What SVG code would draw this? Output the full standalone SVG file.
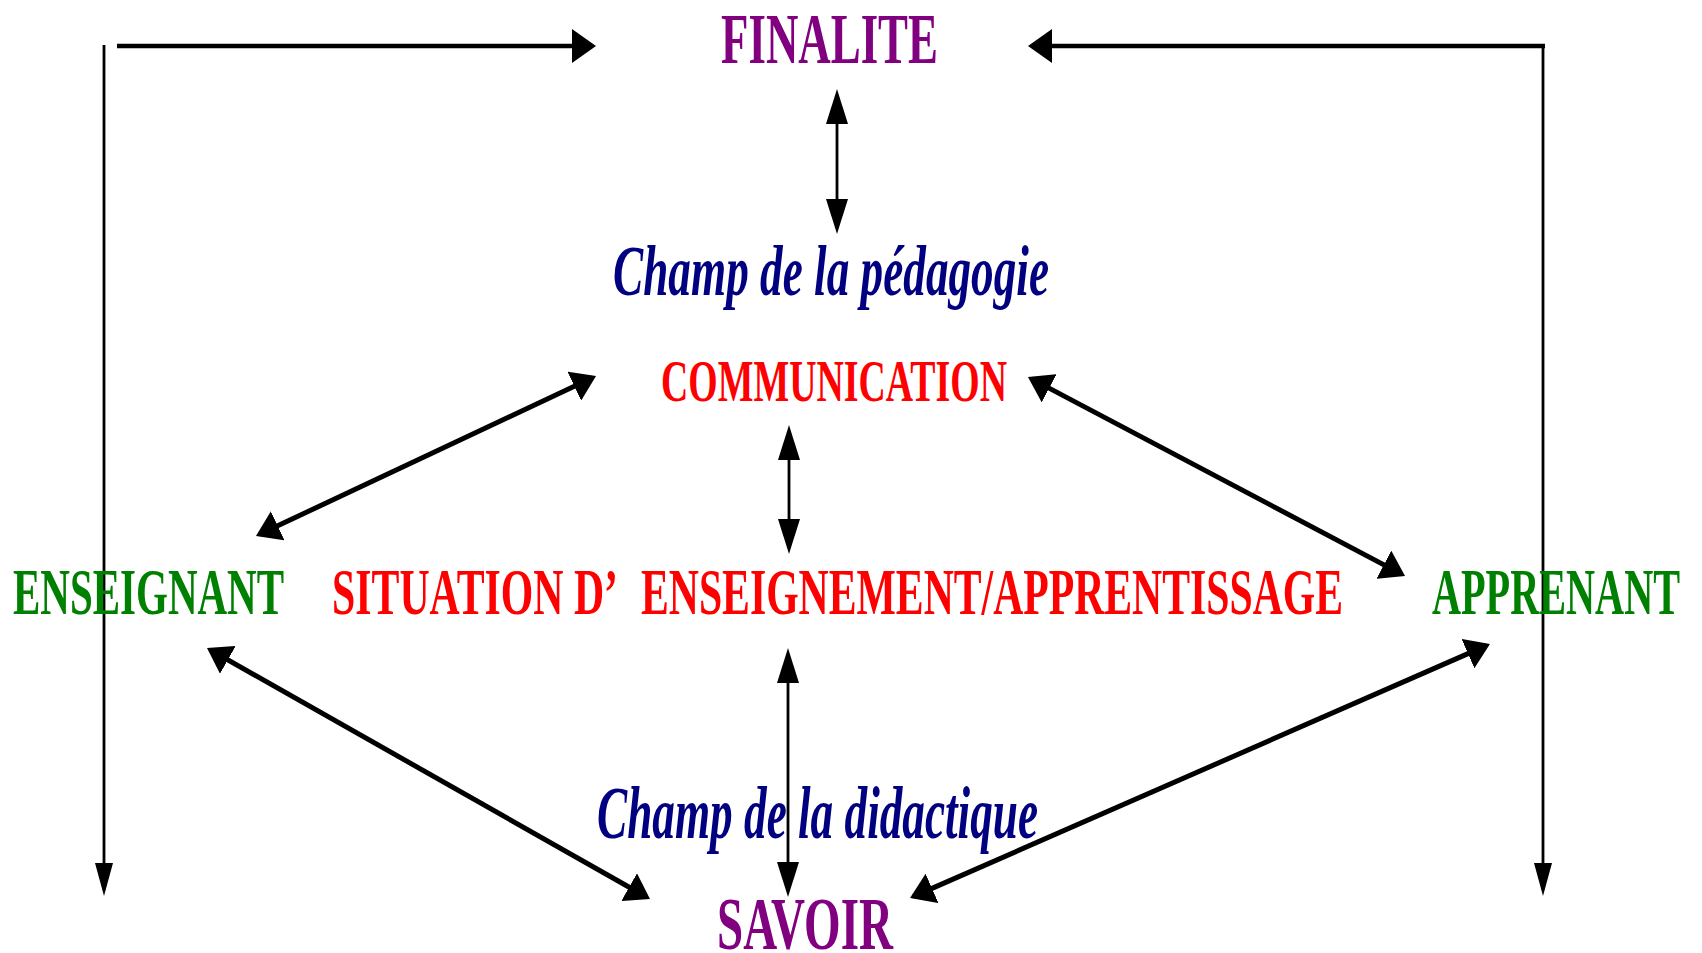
<svg xmlns="http://www.w3.org/2000/svg" width="1702" height="953" viewBox="0 0 1702 953">
<style>
.bg{fill:#ffffff}
.t{font-family:"Liberation Serif","Times New Roman",serif;font-weight:bold}
.it{font-style:italic}
.purple{fill:#800080}
.navy{fill:#000080}
.red{fill:#ff0000}
.green{fill:#008000}
.thick{stroke:#000;stroke-width:5;fill:none}
.hz{stroke:#000;stroke-width:4.5;fill:none}
.thin{stroke:#000;stroke-width:2.8;fill:none}
</style>
<defs>
<marker id="mh" markerUnits="userSpaceOnUse" markerWidth="24" markerHeight="34" refX="20" refY="17" orient="auto-start-reverse"><path d="M0,0 L24,17 L0,34 z" fill="#000"/></marker>
<marker id="md" markerUnits="userSpaceOnUse" markerWidth="24" markerHeight="32" refX="20" refY="16" orient="auto-start-reverse"><path d="M0,0 L24,16 L0,32 z" fill="#000"/></marker>
<marker id="mt" markerUnits="userSpaceOnUse" markerWidth="35" markerHeight="22" refX="29" refY="11" orient="auto-start-reverse"><path d="M0,0 L35,11 L0,22 z" fill="#000"/></marker>
<marker id="mo" markerUnits="userSpaceOnUse" markerWidth="33" markerHeight="18" refX="27" refY="9" orient="auto-start-reverse"><path d="M0,0 L33,9 L0,18 z" fill="#000"/></marker>
</defs>
<rect class="bg" x="0" y="0" width="1702" height="953"/>
<g id="connectors">
<line class="thin" x1="104" y1="45" x2="104" y2="890" marker-end="url(#mo)"/>
<line class="hz" x1="117" y1="46" x2="592" y2="46" marker-end="url(#mh)"/>
<line class="hz" x1="1545" y1="46" x2="1032" y2="46" marker-end="url(#mh)"/>
<line class="thin" x1="1543" y1="46" x2="1543" y2="890" marker-end="url(#mo)"/>
<line class="thin" x1="837" y1="95" x2="837" y2="228" marker-start="url(#mt)" marker-end="url(#mt)"/>
<line class="thin" x1="789" y1="431" x2="789" y2="548" marker-start="url(#mt)" marker-end="url(#mt)"/>
<line class="thin" x1="788" y1="654" x2="788" y2="891" marker-start="url(#mt)" marker-end="url(#mt)"/>
<line class="thick" x1="592.4" y1="377.7" x2="259.6" y2="534.3" marker-start="url(#md)" marker-end="url(#md)"/>
<line class="thick" x1="1031.5" y1="378.9" x2="1401.5" y2="574.1" marker-start="url(#md)" marker-end="url(#md)"/>
<line class="thick" x1="210.5" y1="650" x2="646.5" y2="897" marker-start="url(#md)" marker-end="url(#md)"/>
<line class="thick" x1="1486.3" y1="645.6" x2="913.7" y2="896.4" marker-start="url(#md)" marker-end="url(#md)"/>
</g>
<g id="finalite"><text class="t purple" x="721" y="63" font-size="71" textLength="217" lengthAdjust="spacingAndGlyphs">FINALITE</text></g>
<g id="champ-pedagogie"><text class="t it navy" x="613" y="295" font-size="71" textLength="436" lengthAdjust="spacingAndGlyphs">Champ de la pédagogie</text></g>
<g id="communication"><text class="t red" x="661" y="401" font-size="59" textLength="346" lengthAdjust="spacingAndGlyphs">COMMUNICATION</text></g>
<g id="enseignant"><text class="t green" x="13" y="614" font-size="66" textLength="271" lengthAdjust="spacingAndGlyphs">ENSEIGNANT</text></g>
<g id="situation">
<text class="t red" x="332" y="614" font-size="66" textLength="286" lengthAdjust="spacingAndGlyphs">SITUATION D’</text>
<text class="t red" x="641" y="614" font-size="66" textLength="702" lengthAdjust="spacingAndGlyphs">ENSEIGNEMENT/APPRENTISSAGE</text>
</g>
<g id="apprenant"><text class="t green" x="1432" y="614" font-size="66" textLength="248" lengthAdjust="spacingAndGlyphs">APPRENANT</text></g>
<g id="champ-didactique"><text class="t it navy" x="597" y="838" font-size="74" textLength="441" lengthAdjust="spacingAndGlyphs">Champ de la didactique</text></g>
<g id="savoir"><text class="t purple" x="717" y="949" font-size="74" textLength="176" lengthAdjust="spacingAndGlyphs">SAVOIR</text></g>
</svg>
